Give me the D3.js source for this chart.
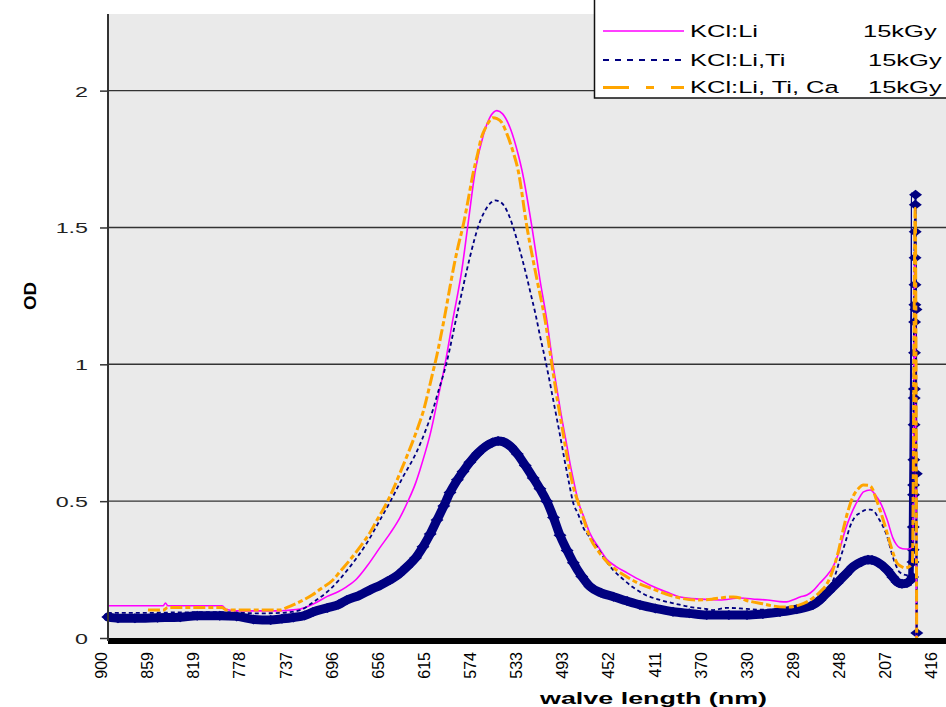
<!DOCTYPE html>
<html>
<head>
<meta charset="utf-8">
<script src="https://cdn.jsdelivr.net/npm/d3@7"></script>
<style>
  html, body { margin: 0; padding: 0; background: #fff; }
  svg { display: block; font-family: "Liberation Sans", Arial, sans-serif; }
</style>
</head>
<body>
<svg id="chart" width="946" height="707"></svg>
<script>
// ---------------- DATA (wavelength nm, optical density) ----------------
const tickLabels = ['900','859','819','778','737','696','656','615','574','533','493','452','411','370','330','289','248','207','416'];
const yTicks = [0, 0.5, 1, 1.5, 2];

const legendNames = ['KCl:Li', 'KCl:Li,Ti', 'KCl:Li, Ti, Ca'];
const legendDose = ['15kGy', '15kGy', '15kGy'];

const seriesLi = [
  [894,0.118],[860,0.118],[845,0.118],[843,0.128],[841,0.118],[815,0.118],[793,0.118],[789,0.104],
  [780,0.099],[760,0.099],[742,0.099],[736,0.101],[724,0.106],[712,0.125],[700,0.152],[690,0.170],
  [683,0.187],[675,0.212],[665,0.262],[653,0.333],[644,0.385],[636,0.438],[629,0.497],[622,0.565],
  [618,0.615],[614,0.670],[609,0.745],[606,0.800],[603,0.860],[596,0.998],[589,1.163],[581,1.346],
  [576,1.499],[569,1.711],[562,1.838],[556,1.904],[550,1.927],[545,1.915],[538,1.860],[531,1.763],
  [528,1.711],[519,1.499],[512,1.309],[506,1.163],[500.5,1.000],[496,0.885],[494,0.834],[488,0.698],
  [485.5,0.640],[482,0.570],[478,0.497],[473,0.440],[468,0.384],[460,0.330],[453,0.288],[445,0.262],
  [435,0.238],[425,0.215],[415,0.194],[400,0.168],[388,0.150],[370,0.142],[353,0.139],[335,0.146],
  [320,0.141],[311,0.139],[300,0.133],[294,0.132],[288,0.140],[282,0.150],[276,0.157],[270,0.175],
  [264.5,0.201],[258,0.230],[253,0.260],[248,0.310],[244,0.369],[240,0.420],[235.3,0.468],[230,0.510],
  [226,0.534],[220,0.541],[215,0.520],[211,0.494],[205,0.431],[200,0.365],[197,0.342],[194,0.330],
  [189,0.325],[186,0.325],[182.5,0.333],[180.5,1.560],[179.2,0.0]
];

const seriesLiTi = [
  [894,0.092],[860,0.092],[820,0.094],[790,0.094],[760,0.090],[740,0.092],[724,0.102],[712,0.132],
  [698,0.176],[680,0.260],[665,0.347],[653.4,0.431],[644.5,0.497],[633,0.589],[621,0.680],[612,0.770],
  [606.5,0.835],[603,0.885],[595,0.998],[584.4,1.199],[574,1.390],[570,1.455],[566,1.510],[562,1.550],
  [558,1.578],[555,1.592],[551.7,1.599],[547,1.593],[543,1.575],[539,1.540],[536,1.505],[532,1.450],
  [528,1.390],[524,1.325],[520,1.255],[516,1.185],[512,1.105],[508,1.030],[504,0.950],[500.5,0.875],
  [497,0.800],[494,0.735],[490,0.645],[486,0.560],[482.8,0.497],[478,0.450],[474,0.406],[468,0.368],
  [461.6,0.333],[455,0.290],[447.4,0.249],[440,0.220],[430,0.186],[420,0.160],[406,0.139],[392,0.125],
  [379,0.113],[365,0.106],[359,0.102],[347,0.110],[335,0.108],[320,0.104],[300,0.104],[285,0.108],
  [275,0.120],[265,0.150],[256,0.186],[251,0.230],[247,0.285],[242,0.350],[238,0.406],[234,0.440],
  [229,0.457],[224,0.468],[220,0.469],[216,0.460],[213,0.439],[209,0.410],[205,0.369],[200,0.295],
  [197,0.262],[194,0.240],[188,0.230],[183.2,0.249],[180.4,1.550],[179.1,0.0]
];

const seriesLiTiCa = [
  [858.5,0.102],[845,0.102],[841,0.111],[793,0.111],[789,0.102],[742,0.102],[736,0.111],[724,0.133],
  [713,0.158],[706,0.179],[695,0.212],[689,0.241],[680,0.285],[671,0.333],[663,0.380],[656,0.431],
  [647,0.497],[641,0.550],[636,0.600],[630,0.660],[624,0.723],[619,0.780],[615,0.830],[611,0.895],
  [607,0.965],[603,1.035],[600,1.095],[596,1.180],[591.5,1.283],[588,1.360],[584.4,1.430],[580,1.505],
  [575.5,1.600],[571,1.700],[567,1.770],[564,1.825],[560,1.865],[556.5,1.890],[553.5,1.901],[550,1.898],
  [546,1.885],[541,1.840],[536,1.780],[531.4,1.711],[523.4,1.499],[514.6,1.309],[507.5,1.163],[501.4,0.998],
  [497,0.880],[492,0.760],[487.2,0.645],[483,0.560],[478.4,0.497],[473,0.430],[468,0.369],[460,0.315],
  [452.7,0.278],[445,0.250],[435,0.223],[425,0.200],[414.7,0.183],[400,0.160],[388,0.146],[373,0.139],
  [360,0.142],[353,0.146],[341,0.150],[335,0.146],[330,0.138],[324,0.132],[315,0.125],[306,0.117],
  [294,0.113],[283,0.120],[276,0.132],[270,0.148],[264.5,0.168],[258,0.200],[253,0.249],[248,0.320],
  [244,0.395],[240,0.460],[235.3,0.516],[230,0.548],[226.4,0.559],[222,0.558],[218.5,0.548],[215,0.510],
  [211.4,0.468],[207,0.410],[202.6,0.347],[199,0.300],[196.4,0.274],[192,0.260],[189.3,0.256],[186,0.260],
  [182.8,0.274],[180.3,1.570],[179.0,0.0]
];

const seriesMarkers = [
  [894,0.077],[885,0.072],[870,0.072],[850,0.074],[830,0.076],[815,0.081],[795,0.081],[780,0.079],
  [765,0.068],[750,0.066],[740,0.070],[730,0.075],[720,0.082],[712.6,0.095],[700,0.110],[690,0.122],
  [682.6,0.139],[672,0.155],[662,0.176],[653,0.193],[644.5,0.212],[637,0.232],[629.5,0.260],[622,0.292],
  [615.4,0.333],[609,0.380],[603,0.431],[597,0.482],[591.5,0.532],[585,0.578],[580,0.608],[574,0.642],
  [567,0.675],[560,0.700],[554,0.714],[549,0.720],[544,0.716],[538,0.700],[532,0.672],[525,0.630],
  [518,0.585],[512,0.545],[506,0.500],[500,0.440],[494.3,0.375],[488,0.320],[482.5,0.275],[475,0.225],
  [467.8,0.188],[458,0.165],[447,0.151],[435,0.135],[423.6,0.121],[410,0.108],[394.4,0.096],[380,0.090],
  [364.6,0.084],[345,0.084],[329,0.084],[315,0.088],[299.8,0.095],[285,0.105],[270.7,0.121],[264.5,0.139],
  [257,0.170],[249.4,0.201],[242,0.232],[235.3,0.260],[228,0.278],[222,0.286],[218.5,0.285],[213,0.275],
  [205.2,0.249],[200,0.222],[196.4,0.205],[192,0.198],[187.6,0.201],[184.5,0.210],[182.6,0.223],
  [182.3,0.278],[182.1,0.322],[182.0,0.406],[181.8,0.523],[181.7,0.559],[181.5,0.651],[181.3,0.779],
  [181.2,0.877],[181.0,0.910],[180.9,1.042],[180.8,1.155],[180.6,1.218],[180.5,1.291],[180.4,1.389],
  [180.3,1.484],[180.2,1.583],[180.0,1.620],[179.6,1.200],[179.3,0.600],[178.9,0.018]
];

// ---------------- LAYOUT ----------------
const svg = d3.select('#chart');
const plot = { left: 108, right: 946, top: 14, bottom: 638 };

const x = d3.scaleLinear().domain([900, 207]).range([101, 885]);
const y = d3.scaleLinear().domain([0, 2.28]).range([plot.bottom, plot.top]);
const tickStep = 693 / 17;
const tickPos = tickLabels.map((_, i) => 900 - i * tickStep);

// plot background
svg.append('rect')
  .attr('x', plot.left).attr('y', plot.top)
  .attr('width', plot.right - plot.left).attr('height', plot.bottom - plot.top)
  .attr('fill', '#eaeaea');

// gridlines
svg.append('g').selectAll('line').data(yTicks.filter(d => d > 0)).join('line')
  .attr('x1', plot.left).attr('x2', plot.right)
  .attr('y1', d => y(d)).attr('y2', d => y(d))
  .attr('stroke', '#333').attr('stroke-width', 1.4);

const line = d3.line().x(d => x(d[0])).y(d => y(d[1])).curve(d3.curveMonotoneX);

// clip for the dense-marker band (the densely sampled part before the spike)
svg.append('clipPath').attr('id', 'bandClip')
  .append('rect').attr('x', 90).attr('y', 0)
  .attr('width', x(183.2) - 90).attr('height', 700);

const series = svg.append('g');

// navy marker series: dense diamonds drawn as a thick band + individual diamonds
series.append('path').datum(seriesMarkers)
  .attr('d', line).attr('fill', 'none')
  .attr('clip-path', 'url(#bandClip)')
  .attr('stroke', '#000080').attr('stroke-width', 9)
  .attr('stroke-linejoin', 'round').attr('stroke-linecap', 'round');
series.append('path').datum(seriesMarkers)
  .attr('d', line).attr('fill', 'none')
  .attr('stroke', '#000080').attr('stroke-width', 2);
series.append('g').selectAll('path').data(seriesMarkers).join('path')
  .attr('transform', d => `translate(${x(d[0])},${y(d[1])})`)
  .attr('d', 'M0,-5L6.5,0L0,5L-6.5,0Z')
  .attr('fill', '#000080');

// KCl:Li
series.append('path').datum(seriesLi)
  .attr('d', line).attr('fill', 'none')
  .attr('stroke', '#ff00ff').attr('stroke-width', 1.6);

// KCl:Li,Ti
series.append('path').datum(seriesLiTi)
  .attr('d', line).attr('fill', 'none')
  .attr('stroke', '#000080').attr('stroke-width', 1.8)
  .attr('stroke-dasharray', '4,3');

// KCl:Li, Ti, Ca
series.append('path').datum(seriesLiTiCa)
  .attr('d', line).attr('fill', 'none')
  .attr('stroke', '#ffa500').attr('stroke-width', 3)
  .attr('stroke-dasharray', '12,3,5,3');

// x axis (category-like labels)
const xAxis = d3.axisBottom(x).tickValues(tickPos)
  .tickFormat((d, i) => tickLabels[i]).tickSize(0);
const gx = svg.append('g').attr('transform', `translate(0,${plot.bottom})`).call(xAxis);
gx.select('.domain').remove();
gx.selectAll('text')
  .attr('transform', 'rotate(-90)')
  .attr('x', -14).attr('y', 0).attr('dy', '0.35em')
  .attr('text-anchor', 'end')
  .attr('fill', '#000')
  .style('font-size', '16px')
  .style('font-family', '"Liberation Sans", Arial, sans-serif');

// thick baseline
svg.append('line')
  .attr('x1', plot.left).attr('x2', plot.right)
  .attr('y1', 641).attr('y2', 641)
  .attr('stroke', '#000').attr('stroke-width', 6);

// y axis
const yAxis = d3.axisLeft(y).tickValues(yTicks).tickSize(8).tickFormat(d3.format(''));
const gy = svg.append('g').attr('transform', `translate(${plot.left},0)`).call(yAxis);
gy.select('.domain').remove();
gy.selectAll('.tick line').attr('stroke', '#333').attr('stroke-width', 1.5);
gy.selectAll('text')
  .attr('x', -20 / 1.55).attr('dy', '0.36em')
  .attr('transform', 'scale(1.55,1)')
  .attr('fill', '#222')
  .style('font-size', '15px')
  .style('font-family', '"Liberation Sans", Arial, sans-serif');
svg.append('line')
  .attr('x1', plot.left).attr('x2', plot.left)
  .attr('y1', plot.top).attr('y2', 641)
  .attr('stroke', '#333').attr('stroke-width', 2);

// axis titles
svg.append('text')
  .attr('transform', 'translate(30,296) rotate(-90)')
  .attr('text-anchor', 'middle').attr('dy', '0.36em')
  .attr('textLength', 28).attr('lengthAdjust', 'spacingAndGlyphs')
  .style('font-size', '17px').style('font-weight', 'bold')
  .text('OD');
svg.append('text')
  .attr('x', 653.5).attr('y', 703.5)
  .attr('text-anchor', 'middle')
  .attr('textLength', 227).attr('lengthAdjust', 'spacingAndGlyphs')
  .style('font-size', '17px').style('font-weight', 'bold')
  .text('walve length (nm)');

// legend
const lg = svg.append('g');
lg.append('rect').attr('x', 594.5).attr('y', -4).attr('width', 360).attr('height', 102)
  .attr('fill', '#fff').attr('stroke', '#111').attr('stroke-width', 1.5);
const legendStyle = [
  { color: '#ff00ff', width: 1.6, dash: null },
  { color: '#000080', width: 1.8, dash: '6,6' },
  { color: '#ffa500', width: 3, dash: '26,17,8,17' }
];
const rowY = [31, 60, 87.5];
const doseX = [863, 868, 868];
legendNames.forEach((name, i) => {
  const s = legendStyle[i];
  lg.append('line').attr('x1', 603).attr('x2', 684)
    .attr('y1', rowY[i]).attr('y2', rowY[i])
    .attr('stroke', s.color).attr('stroke-width', s.width)
    .attr('stroke-dasharray', s.dash);
  lg.append('text')
    .attr('transform', `translate(690,${rowY[i] + 5.5}) scale(1.5,1)`)
    .style('font-size', '17px').attr('fill', '#000')
    .text(name);
  lg.append('text')
    .attr('transform', `translate(${doseX[i]},${rowY[i] + 5.5}) scale(1.5,1)`)
    .style('font-size', '17px').attr('fill', '#000')
    .text(legendDose[i]);
});
</script>
</body>
</html>
